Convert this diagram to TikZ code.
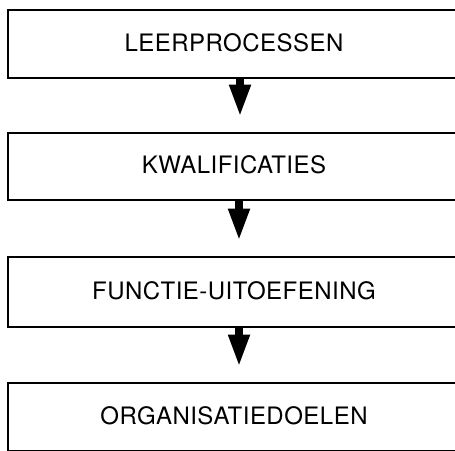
\documentclass[tikz,border=0pt]{standalone}
\usepackage{fontspec}
\setmainfont[LetterSpace=2]{TeX Gyre Heros}
\usetikzlibrary{arrows.meta}
\begin{document}
\begin{tikzpicture}[x=1pt,y=-1pt,
  box/.style={draw=black,line width=1.8pt,minimum width=452pt,inner sep=0pt,
    text height=17pt,text depth=3pt,font=\fontsize{24}{28}\selectfont},
  flow/.style={line width=7.5pt,-{Triangle[width=20pt,length=32pt]},shorten >=15.5pt}]
\useasboundingbox (0,0) rectangle (455,450);
\clip (0,0) rectangle (455,450);
\fill[white] (0,0) rectangle (455,450);
\node[box,minimum height=68pt] (b1) at (234,44) {LEERPROCESSEN};
\node[box,minimum height=67pt] (b2) at (234,166.5) {KWALIFICATIES};
\node[box,minimum height=70pt] (b3) at (234,292) {FUNCTIE-UITOEFENING};
\node[box,minimum height=68pt] (b4) at (234,417) {ORGANISATIEDOELEN};
\draw[flow] ([xshift=6pt]b1.south) -- ([xshift=6pt]b2.north);
\draw[flow] ([xshift=5pt]b2.south) -- ([xshift=5pt]b3.north);
\draw[flow] ([xshift=5pt]b3.south) -- ([xshift=5pt]b4.north);
\end{tikzpicture}
\end{document}
